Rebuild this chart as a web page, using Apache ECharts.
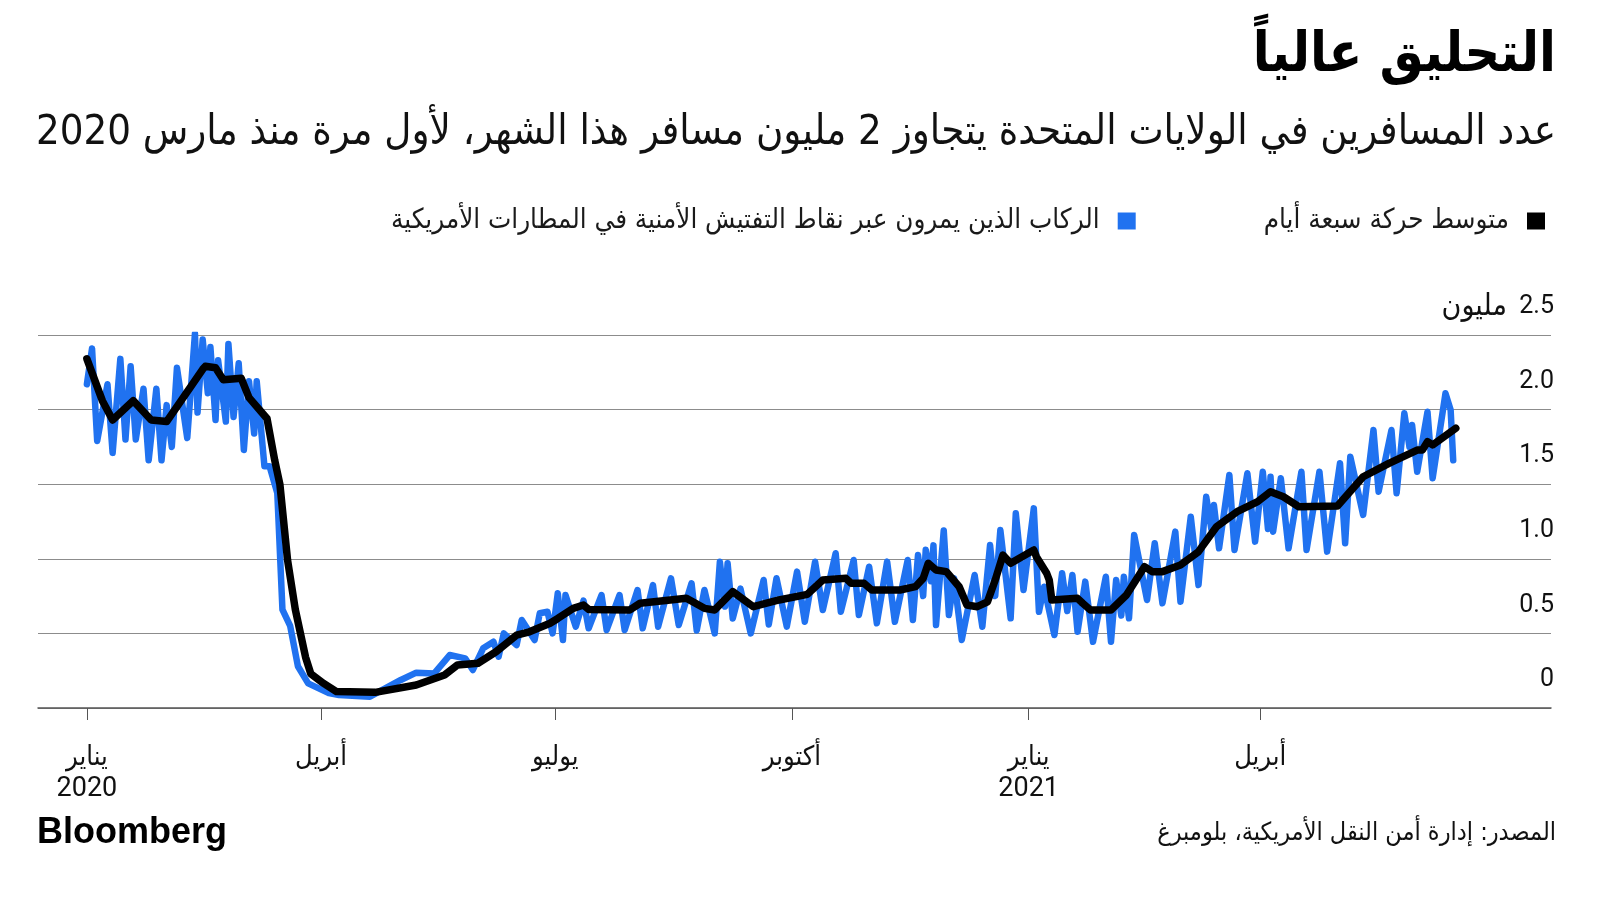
<!DOCTYPE html>
<html>
<head>
<meta charset="utf-8">
<script src="https://cdn.jsdelivr.net/npm/echarts@6/dist/echarts.min.js"></script>
<style>
html,body{margin:0;padding:0;background:#fff;}
#chart{width:1600px;height:900px;}
</style>
</head>
<body>
<div id="chart"></div>
<script>
// ---------- DATA ----------
const titleText = 'التحليق عالياً';
const subtitleText = 'عدد المسافرين في الولايات المتحدة يتجاوز 2 مليون مسافر هذا الشهر، لأول مرة منذ مارس 2020';
const sourceText = 'المصدر: إدارة أمن النقل الأمريكية، بلومبرغ';
const logoText = 'Bloomberg';
const seriesNames = ['الركاب الذين يمرون عبر نقاط التفتيش الأمنية في المطارات الأمريكية', 'متوسط حركة سبعة أيام'];
const yUnit = 'مليون';
const yTicks = [0, 0.5, 1.0, 1.5, 2.0, 2.5];
const yTickLabels = ['0', '0.5', '1.0', '1.5', '2.0', '2.5'];
const xTickDates = ['2020-01-01', '2020-04-01', '2020-07-01', '2020-10-01', '2021-01-01', '2021-04-01'];
const xTickLabels = ['يناير\n2020', 'أبريل', 'يوليو', 'أكتوبر', 'يناير\n2021', 'أبريل'];
const xRange = ['2019-12-13', '2021-07-23'];

// daily checkpoint passengers (millions), peaks and troughs
const dailyPassengers = [
['2020-01-01',2.17],['2020-01-03',2.41],['2020-01-05',1.79],['2020-01-09',2.17],['2020-01-11',1.71],['2020-01-14',2.34],['2020-01-16',1.80],['2020-01-18',2.29],['2020-01-20',1.80],['2020-01-23',2.14],['2020-01-25',1.66],['2020-01-28',2.14],['2020-01-30',1.66],['2020-02-01',2.03],['2020-02-03',1.75],['2020-02-05',2.28],['2020-02-09',1.81],['2020-02-12',2.51],['2020-02-13',1.98],['2020-02-15',2.47],['2020-02-17',2.11],['2020-02-18',2.42],['2020-02-20',1.93],['2020-02-21',2.33],['2020-02-24',1.92],['2020-02-25',2.44],['2020-02-27',1.95],['2020-02-29',2.31],['2020-03-02',1.73],['2020-03-04',2.19],['2020-03-06',1.84],['2020-03-07',2.19],['2020-03-10',1.62],['2020-03-12',1.62],['2020-03-15',1.44],['2020-03-17',0.66],['2020-03-20',0.55],['2020-03-23',0.28],['2020-03-27',0.165],['2020-04-04',0.10],['2020-04-08',0.087],['2020-04-20',0.076],
['2020-05-02',0.188],['2020-05-08',0.237],['2020-05-15',0.232],['2020-05-21',0.355],['2020-05-27',0.333],['2020-05-30',0.255],['2020-06-03',0.40],['2020-06-07',0.444],['2020-06-09',0.344],['2020-06-11',0.50],['2020-06-16',0.422],['2020-06-18',0.59],['2020-06-23',0.456],['2020-06-25',0.635],['2020-06-28',0.645],['2020-06-30',0.50],
['2020-07-02',0.769],['2020-07-04',0.456],['2020-07-05',0.757],['2020-07-09',0.545],['2020-07-12',0.72],['2020-07-14',0.534],['2020-07-19',0.757],['2020-07-21',0.523],['2020-07-26',0.757],['2020-07-28',0.523],['2020-08-02',0.791],['2020-08-04',0.534],['2020-08-08',0.824],['2020-08-10',0.545],['2020-08-15',0.869],['2020-08-18',0.556],['2020-08-23',0.836],['2020-08-25',0.52],['2020-08-28',0.791],['2020-09-01',0.50],['2020-09-03',0.98],['2020-09-05',0.68],['2020-09-06',0.97],['2020-09-08',0.60],['2020-09-11',0.80],['2020-09-15',0.50],['2020-09-20',0.858],['2020-09-22',0.56],['2020-09-25',0.87],['2020-09-29',0.545],
['2020-10-03',0.914],['2020-10-06',0.578],['2020-10-10',0.98],['2020-10-13',0.657],['2020-10-18',1.037],['2020-10-20',0.645],['2020-10-25',0.992],['2020-10-27',0.623],['2020-10-31',0.947],['2020-11-03',0.568],['2020-11-07',0.981],['2020-11-10',0.578],['2020-11-15',0.992],['2020-11-17',0.59],['2020-11-19',1.025],['2020-11-21',0.75],['2020-11-22',1.06],['2020-11-24',0.85],['2020-11-25',1.09],['2020-11-26',0.556],['2020-11-29',1.19],['2020-12-01',0.623],['2020-12-03',0.87],['2020-12-06',0.456],['2020-12-11',0.891],['2020-12-14',0.545],['2020-12-17',1.092],['2020-12-19',0.75],['2020-12-21',1.193],['2020-12-25',0.601],['2020-12-27',1.305],['2020-12-30',0.791],
['2021-01-03',1.338],['2021-01-05',0.645],['2021-01-07',0.813],['2021-01-11',0.489],['2021-01-14',0.903],['2021-01-16',0.65],['2021-01-18',0.891],['2021-01-20',0.511],['2021-01-23',0.847],['2021-01-26',0.444],['2021-01-31',0.88],['2021-02-02',0.444],['2021-02-04',0.858],['2021-02-06',0.62],['2021-02-07',0.88],['2021-02-09',0.601],['2021-02-11',1.16],['2021-02-16',0.724],['2021-02-19',1.104],['2021-02-22',0.702],['2021-02-27',1.182],['2021-03-01',0.712],['2021-03-05',1.282],['2021-03-08',0.824],['2021-03-11',1.416],['2021-03-13',1.2],['2021-03-14',1.36],['2021-03-16',1.07],['2021-03-20',1.562],['2021-03-22',1.059],['2021-03-27',1.573],['2021-03-30',1.115],
['2021-04-02',1.584],['2021-04-04',1.2],['2021-04-05',1.55],['2021-04-06',1.182],['2021-04-09',1.54],['2021-04-12',1.07],['2021-04-17',1.584],['2021-04-19',1.059],['2021-04-24',1.584],['2021-04-27',1.048],['2021-05-02',1.64],['2021-05-04',1.104],['2021-05-06',1.684],['2021-05-11',1.294],['2021-05-15',1.863],['2021-05-17',1.45],['2021-05-22',1.863],['2021-05-24',1.439],['2021-05-27',1.975],['2021-05-29',1.75],['2021-05-30',1.897],['2021-06-01',1.584],['2021-06-05',1.986],['2021-06-07',1.54],['2021-06-12',2.109],['2021-06-14',1.997],['2021-06-15',1.66]
];

// seven-day moving average (millions)
const sevenDayAverage = [
['2020-01-01',2.34],['2020-01-07',2.06],['2020-01-11',1.93],['2020-01-19',2.06],['2020-01-26',1.93],['2020-02-01',1.92],['2020-02-15',2.27],['2020-02-16',2.29],['2020-02-20',2.28],['2020-02-23',2.20],['2020-03-01',2.21],['2020-03-04',2.08],['2020-03-11',1.94],['2020-03-14',1.66],['2020-03-16',1.50],['2020-03-19',0.99],['2020-03-22',0.66],['2020-03-26',0.34],['2020-03-28',0.23],['2020-04-02',0.165],['2020-04-07',0.11],['2020-04-22',0.105],
['2020-05-08',0.154],['2020-05-19',0.221],['2020-05-24',0.288],['2020-06-01',0.30],['2020-06-08',0.377],['2020-06-16',0.489],['2020-06-21',0.511],['2020-06-29',0.568],['2020-07-02',0.60],['2020-07-08',0.668],['2020-07-12',0.69],['2020-07-14',0.661],['2020-07-30',0.657],['2020-08-03',0.702],['2020-08-21',0.735],['2020-08-28',0.668],['2020-09-01',0.657],['2020-09-08',0.78],['2020-09-16',0.679],['2020-09-26',0.724],
['2020-10-07',0.762],['2020-10-13',0.858],['2020-10-22',0.869],['2020-10-24',0.836],['2020-10-29',0.836],['2020-11-01',0.791],['2020-11-12',0.791],['2020-11-18',0.813],['2020-11-21',0.869],['2020-11-23',0.97],['2020-11-26',0.925],['2020-11-30',0.914],['2020-12-05',0.813],['2020-12-08',0.69],['2020-12-12',0.679],['2020-12-16',0.712],['2020-12-19',0.858],['2020-12-22',1.025],['2020-12-25',0.97],
['2021-01-03',1.059],['2021-01-04',1.014],['2021-01-08',0.903],['2021-01-09',0.858],['2021-01-10',0.724],['2021-01-20',0.735],['2021-01-22',0.702],['2021-01-25',0.657],['2021-02-02',0.657],['2021-02-08',0.757],['2021-02-15',0.947],['2021-02-18',0.914],['2021-02-22',0.914],['2021-03-01',0.958],['2021-03-08',1.048],['2021-03-15',1.215],['2021-03-23',1.316],['2021-03-31',1.383],
['2021-04-05',1.45],['2021-04-10',1.416],['2021-04-16',1.349],['2021-05-01',1.354],['2021-05-11',1.55],['2021-05-21',1.64],['2021-06-01',1.729],['2021-06-03',1.729],['2021-06-05',1.785],['2021-06-07',1.763],['2021-06-16',1.875]
];

// ---------- CHART ----------
const AR = '"DejaVu Sans Condensed", "DejaVu Sans", sans-serif';
const NUM = 'Roboto, "DejaVu Sans Condensed", "DejaVu Sans", sans-serif';
const toTs = s => Date.UTC(+s.slice(0, 4), +s.slice(5, 7) - 1, +s.slice(8, 10));
const toPoints = arr => arr.map(p => [toTs(p[0]), p[1]]);
const xTickTs = xTickDates.map(toTs);
const xLabelMap = {};
xTickTs.forEach((t, i) => { xLabelMap[t] = xTickLabels[i]; });

const chart = echarts.init(document.getElementById('chart'), null, {renderer: 'canvas'});
chart.setOption({
  animation: false,
  backgroundColor: '#ffffff',
  grid: {left: 38, right: 49, top: 335, bottom: 192, containLabel: false},
  legend: {
    right: 50, top: 202, align: 'right', itemGap: 128,
    itemWidth: 18, itemHeight: 17, icon: 'rect',
    selectedMode: false,
    textStyle: {fontFamily: AR, fontSize: 27.5, color: '#1a1a1a', padding: [0, 13, 0, 0]},
    data: [seriesNames[0], seriesNames[1]]
  },
  xAxis: {
    type: 'value',
    min: toTs(xRange[0]), max: toTs(xRange[1]),
    axisLine: {show: true, onZero: false, lineStyle: {color: '#555', width: 1.5}},
    axisTick: {show: true, customValues: xTickTs, length: 12, lineStyle: {color: '#555', width: 1}},
    axisLabel: {
      customValues: xTickTs,
      formatter: v => xLabelMap[v] || '',
      fontFamily: NUM, fontSize: 27, color: '#111', lineHeight: 31, margin: 35
    },
    splitLine: {show: false}
  },
  yAxis: {
    type: 'value', position: 'right',
    min: yTicks[0], max: yTicks[yTicks.length - 1], interval: 0.5,
    axisLine: {show: false}, axisTick: {show: false},
    splitLine: {show: true, lineStyle: {color: '#8c8c8c', width: 1.2}},
    axisLabel: {
      inside: true, margin: -3, align: 'right', verticalAlign: 'bottom',
      padding: [0, 0, 13, 0], lineHeight: 30,
      fontFamily: NUM, fontSize: 25, color: '#111',
      rich: {u: {fontFamily: AR, fontSize: 30, lineHeight: 30, color: '#111'}},
      formatter: v => {
        const i = yTicks.findIndex(t => Math.abs(t - v) < 1e-9);
        const lab = i >= 0 ? yTickLabels[i] : '';
        return i === yTicks.length - 1 ? '{u|' + yUnit + '}  ' + lab : lab;
      }
    }
  },
  series: [
    {
      name: seriesNames[0], type: 'line', data: toPoints(dailyPassengers), showSymbol: false, symbol: 'none',
      itemStyle: {color: '#2072f0'},
      lineStyle: {color: '#2072f0', width: 6.5, join: 'round', cap: 'round'},
      z: 2
    },
    {
      name: seriesNames[1], type: 'line', data: toPoints(sevenDayAverage), showSymbol: false, symbol: 'none',
      itemStyle: {color: '#000'},
      lineStyle: {color: '#000', width: 7.5, join: 'round', cap: 'round'},
      z: 3
    }
  ],
  graphic: [
    {type: 'text', right: 44, top: 29, style: {text: titleText, font: 'bold 55px ' + AR, fill: '#000'}},
    {type: 'text', right: 44, top: 112, style: {text: subtitleText, font: '41.5px ' + AR, fill: '#111'}},
    {type: 'text', left: 37, top: 815, style: {text: logoText, font: 'bold 36px "Liberation Sans", Arial, sans-serif', fill: '#000'}},
    {type: 'text', right: 44, top: 821, style: {text: sourceText, font: '25px ' + AR, fill: '#111'}}
  ]
});
</script>
</body>
</html>
